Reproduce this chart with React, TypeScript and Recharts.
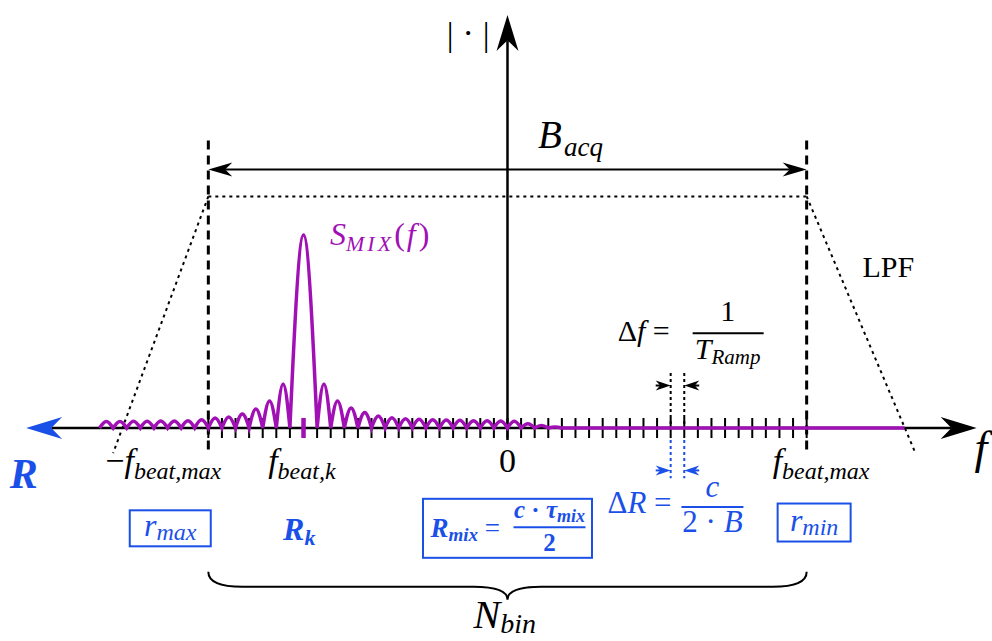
import React from 'react';
import { ComposedChart, Line, XAxis, YAxis, ReferenceLine, ReferenceDot } from 'recharts';

const W = 992;
const H = 641;

// frequency axis counted in FFT bins, magnitude normalised to the main lobe
const bins = Array.from({ length: 45 }, (_, i) => i - 22);
const beatBin = -15;
const mainLobe = 1.0;
// |sinc| side-lobe peaks, going outward from the main lobe
const lobesLeft = [0.228, 0.14, 0.098, 0.072, 0.057, 0.052, 0.042, 0.038, 0.036, 0.036, 0.035, 0.035, 0.034, 0.034];
const lobesRight = [0.228, 0.14, 0.104, 0.08, 0.062, 0.053, 0.048, 0.045, 0.043, 0.041, 0.04, 0.038, 0.037, 0.036, 0.035, 0.022, 0.013, 0.005];
const tailEnd = 29.2;

const X_DOMAIN = [-37.32, 35.63];
const Y_DOMAIN = [-1.104, 2.218];

const PURPLE = '#a010b4';
const BLUE = '#1a50e8';
const SERIF = '"Liberation Serif", "Times New Roman", serif';

// build the zero / peak / zero ... sequence of the spectrum
const curve: { f: number; mag: number }[] = [];
for (let i = lobesLeft.length - 1; i >= 0; i--) {
  const c = beatBin - 1.5 - i;
  curve.push({ f: c - 0.5, mag: 0 }, { f: c, mag: lobesLeft[i] });
}
curve.push({ f: beatBin - 1, mag: 0 }, { f: beatBin, mag: mainLobe });
lobesRight.forEach((h, i) => {
  const c = beatBin + 1.5 + i;
  curve.push({ f: c - 0.5, mag: 0 }, { f: c, mag: h });
});
const lastZero = beatBin + 1 + lobesRight.length;
curve.push({ f: lastZero, mag: 0 }, { f: (lastZero + tailEnd) / 2, mag: 0 }, { f: tailEnd, mag: 0 });

// bin ticks on the f axis (the beat bin gets its own purple marker)
const tickData = bins.filter((f) => f !== beatBin).map((f) => ({ f, mag: 0 }));

// curve factory: each zero-peak-zero triple becomes a half-sine arch with cusps at the zeros
const lobeCurve = (context: any) => {
  let pts: number[][] = [];
  return {
    areaStart() {},
    areaEnd() {},
    lineStart() {
      pts = [];
    },
    lineEnd() {
      if (!pts.length) return;
      context.moveTo(pts[0][0], pts[0][1]);
      const k = 0.5236;
      for (let i = 1; i + 1 < pts.length; i += 2) {
        const [x0, y0] = pts[i - 1];
        const [x1, y1] = pts[i];
        const [x2, y2] = pts[i + 1];
        if (y1 === y0 && y1 === y2) {
          context.lineTo(x2, y2);
          continue;
        }
        context.bezierCurveTo(x0 + (x1 - x0) / 3, y0 + (y1 - y0) * k, x0 + (2 * (x1 - x0)) / 3, y1, x1, y1);
        context.bezierCurveTo(x1 + (x2 - x1) / 3, y1, x1 + (2 * (x2 - x1)) / 3, y2 + (y1 - y2) * k, x2, y2);
      }
    },
    point(x: number, y: number) {
      pts.push([+x, +y]);
    },
  };
};

// curve factory drawing a short vertical tick at every point
const tickCurve = (context: any) => ({
  areaStart() {},
  areaEnd() {},
  lineStart() {},
  lineEnd() {},
  point(x: number, y: number) {
    context.moveTo(+x, +y - 10);
    context.lineTo(+x, +y + 10);
  },
});

const head = (tx: number, ty: number, ux: number, uy: number, len: number, hw: number, color: string) => {
  const bx = tx - ux * len;
  const by = ty - uy * len;
  const nx = tx - ux * len * 0.7;
  const ny = ty - uy * len * 0.7;
  return (
    <path
      d={`M${tx},${ty} L${bx - uy * hw},${by + ux * hw} L${nx},${ny} L${bx + uy * hw},${by - ux * hw} Z`}
      fill={color}
      stroke="none"
    />
  );
};

type ArrowOpts = {
  color?: string;
  width?: number;
  dash?: string;
  start?: string | null;
  end?: string | null;
  len?: number;
  hw?: number;
};

const arrow = ({ color = '#000', width = 2, dash, start = null, end = null, len = 24, hw = 7 }: ArrowOpts) => (p: any) => {
  const { x1, y1, x2, y2 } = p;
  const d = Math.hypot(x2 - x1, y2 - y1) || 1;
  const ux = (x2 - x1) / d;
  const uy = (y2 - y1) / d;
  const sx = start ? x1 + ux * len * 0.7 : x1;
  const sy = start ? y1 + uy * len * 0.7 : y1;
  const ex = end ? x2 - ux * len * 0.7 : x2;
  const ey = end ? y2 - uy * len * 0.7 : y2;
  return (
    <g>
      <line x1={sx} y1={sy} x2={ex} y2={ey} stroke={color} strokeWidth={width} strokeDasharray={dash} />
      {start && head(x1, y1, -ux, -uy, len, hw, start)}
      {end && head(x2, y2, ux, uy, len, hw, end)}
    </g>
  );
};

const brace = (p: any) => {
  const { x1, y1, x2 } = p;
  const xm = (x1 + x2) / 2;
  const h = 15;
  const t = 28;
  const d = `M${x1},${y1} Q${x1},${y1 + h} ${x1 + 34},${y1 + h} L${xm - 34},${y1 + h} Q${xm},${y1 + h} ${xm},${y1 + t}
    Q${xm},${y1 + h} ${xm + 34},${y1 + h} L${x2 - 34},${y1 + h} Q${x2},${y1 + h} ${x2},${y1}`;
  return <path d={d} fill="none" stroke="#000" strokeWidth={2} />;
};

// text with the serif family set inline
const T = ({ style, italic, ...rest }: any) => (
  <text {...rest} style={{ fontFamily: SERIF, fontStyle: italic ? 'italic' : 'normal', ...style }} />
);
const S = ({ style, italic, ...rest }: any) => (
  <tspan {...rest} style={{ fontFamily: SERIF, fontStyle: italic ? 'italic' : 'normal', ...style }} />
);

const note = (key: string, f: number, mag: number, node: React.ReactNode) => (
  <ReferenceDot
    key={key}
    x={f}
    y={mag}
    r={0}
    shape={(p: any) => <g transform={`translate(${p.cx},${p.cy})`}>{node}</g>}
  />
);

export default function App() {
  return (
    <div style={{ position: 'absolute', left: 0, top: 0, width: W, height: H, background: '#fff' }}>
      <ComposedChart width={W} height={H} margin={{ top: 0, right: 0, bottom: 0, left: 0 }}>
        <XAxis type="number" dataKey="f" domain={X_DOMAIN} allowDataOverflow hide />
        <YAxis type="number" dataKey="mag" domain={Y_DOMAIN} allowDataOverflow hide />

        {/* LPF trapezoid and band edges */}
        <ReferenceLine segment={[{ x: -22, y: 1.2 }, { x: 22, y: 1.2 }]} shape={arrow({ dash: '3 4', width: 2 })} />
        <ReferenceLine segment={[{ x: -22, y: 1.2 }, { x: -29, y: -0.13 }]} shape={arrow({ dash: '3 4', width: 2 })} />
        <ReferenceLine segment={[{ x: 22, y: 1.2 }, { x: 30, y: -0.13 }]} shape={arrow({ dash: '3 4', width: 2 })} />
        <ReferenceLine segment={[{ x: -22, y: 1.49 }, { x: -22, y: -0.13 }]} shape={arrow({ dash: '9 6', width: 3 })} />
        <ReferenceLine segment={[{ x: 22, y: 1.49 }, { x: 22, y: -0.13 }]} shape={arrow({ dash: '9 6', width: 3 })} />
        <ReferenceLine
          segment={[{ x: -22, y: 1.34 }, { x: 22, y: 1.34 }]}
          shape={arrow({ width: 2, start: '#000', end: '#000', len: 24, hw: 7 })}
        />

        {/* axes */}
        <ReferenceLine
          segment={[{ x: -35.4, y: 0 }, { x: 34.5, y: 0 }]}
          shape={arrow({ width: 2.5, start: BLUE, end: '#000', len: 36, hw: 11 })}
        />
        <ReferenceLine
          segment={[{ x: 0, y: -0.062 }, { x: 0, y: 2.14 }]}
          shape={arrow({ width: 2.5, end: '#000', len: 36, hw: 11 })}
        />

        {/* resolution markers */}
        <ReferenceLine segment={[{ x: 12, y: 0.285 }, { x: 12, y: 0 }]} shape={arrow({ dash: '3 3', width: 2 })} />
        <ReferenceLine segment={[{ x: 13, y: 0.285 }, { x: 13, y: 0 }]} shape={arrow({ dash: '3 3', width: 2 })} />
        <ReferenceLine segment={[{ x: 10.9, y: 0.22 }, { x: 12, y: 0.22 }]} shape={arrow({ end: '#000', len: 15, hw: 5 })} />
        <ReferenceLine segment={[{ x: 14.1, y: 0.22 }, { x: 13, y: 0.22 }]} shape={arrow({ end: '#000', len: 15, hw: 5 })} />
        <ReferenceLine segment={[{ x: 12, y: -0.062 }, { x: 12, y: -0.26 }]} shape={arrow({ dash: '3 3', width: 2, color: BLUE })} />
        <ReferenceLine segment={[{ x: 13, y: -0.062 }, { x: 13, y: -0.26 }]} shape={arrow({ dash: '3 3', width: 2, color: BLUE })} />
        <ReferenceLine segment={[{ x: 10.9, y: -0.22 }, { x: 12, y: -0.22 }]} shape={arrow({ end: BLUE, color: BLUE, len: 15, hw: 5 })} />
        <ReferenceLine segment={[{ x: 14.1, y: -0.22 }, { x: 13, y: -0.22 }]} shape={arrow({ end: BLUE, color: BLUE, len: 15, hw: 5 })} />
        <ReferenceLine segment={[{ x: beatBin, y: 0.052 }, { x: beatBin, y: -0.052 }]} shape={arrow({ color: PURPLE, width: 4.5 })} />

        {/* bin ticks, then the spectrum on top */}
        <Line
          data={tickData}
          dataKey="mag"
          type={tickCurve as any}
          stroke="#000"
          strokeWidth={2}
          dot={false}
          activeDot={false}
          isAnimationActive={false}
        />
        <Line
          data={curve}
          dataKey="mag"
          type={lobeCurve as any}
          stroke={PURPLE}
          strokeWidth={3.5}
          dot={false}
          activeDot={false}
          isAnimationActive={false}
        />

        {/* brace under the acquisition band */}
        <ReferenceLine segment={[{ x: -22, y: -0.745 }, { x: 22, y: -0.745 }]} shape={brace} />

        {[
          note('abs', -2.9, 1.98, (
            <g>
              <T x={-18} y={0} fontSize={34} textAnchor="middle">|</T>
              <T x={0} y={-2} fontSize={34} textAnchor="middle">·</T>
              <T x={18} y={0} fontSize={34} textAnchor="middle">|</T>
            </g>
          )),
          note('bacq', 2.25, 1.45, (
            <T fontSize={39} italic>
              B<S italic fontSize={27} dy={8} dx={2}>acq</S>
            </T>
          )),
          note('lpf', 26.1, 0.78, <T fontSize={30}>LPF</T>),
          note('smix', -13.05, 0.95, (
            <T fontSize={32} fill={PURPLE}>
              <S italic>S</S>
              <S italic fontSize={22} dy={6} letterSpacing={3}>MIX</S>
              <S dy={-6}>(</S>
              <S italic dx={2}>f</S>
              <S dx={3}>)</S>
            </T>
          )),
          note('df', 8.1, 0.45, (
            <g>
              <T x={0} y={0} fontSize={30}>
                Δ<S italic>f</S> =
              </T>
              <line x1={75} x2={146} y1={-8} y2={-8} stroke="#000" strokeWidth={2} />
              <T x={110} y={-20} textAnchor="middle" fontSize={30}>1</T>
              <T x={110} y={18} textAnchor="middle" fontSize={30} italic>
                T<S italic fontSize={21} dy={5}>Ramp</S>
              </T>
            </g>
          )),
          note('fmin', -21.05, -0.23, (
            <T fontSize={34} textAnchor="end">
              −<S italic>f</S>
              <S italic fontSize={24} dy={7}>beat,max</S>
            </T>
          )),
          note('fk', -17.6, -0.23, (
            <T fontSize={34} italic>
              f<S italic fontSize={24} dy={7}>beat,k</S>
            </T>
          )),
          note('zero', 0, -0.23, <T fontSize={34} textAnchor="middle">0</T>),
          note('fmax', 19.5, -0.23, (
            <T fontSize={34} italic>
              f<S italic fontSize={24} dy={7}>beat,max</S>
            </T>
          )),
          note('faxis', 34.35, -0.18, <T fontSize={46} italic>f</T>),
          note('R', -36.6, -0.31, (
            <T fontSize={42} italic fontWeight="bold" fill={BLUE}>R</T>
          )),
          note('rmax', -24.8, -0.52, (
            <g>
              <rect x={-40.5} y={-18} width={81} height={36} fill="none" stroke={BLUE} strokeWidth={2} />
              <T x={0} y={8} textAnchor="middle" fontSize={32} italic fill={BLUE}>
                r<S italic fontSize={24} dy={4}>max</S>
              </T>
            </g>
          )),
          note('rk', -16.5, -0.58, (
            <T fontSize={32} italic fontWeight="bold" fill={BLUE}>
              R<S italic fontSize={22} dy={5}>k</S>
            </T>
          )),
          note('rmix', 0, -0.52, (
            <g>
              <rect x={-84.5} y={-29.5} width={169} height={59} fill="none" stroke={BLUE} strokeWidth={2} />
              <T x={-77} y={9} fontSize={27} fontWeight="bold" fill={BLUE}>
                <S italic>R</S>
                <S italic fontSize={19} dy={4}>mix</S>
                <S dy={-4} fontWeight="normal"> =</S>
              </T>
              <line x1={6} x2={78} y1={-1} y2={-1} stroke={BLUE} strokeWidth={2} />
              <T x={42} y={-10} textAnchor="middle" fontSize={25} fontWeight="bold" fill={BLUE}>
                <S italic>c</S> · <S italic>τ</S>
                <S italic fontSize={18} dy={4}>mix</S>
              </T>
              <T x={42} y={23} textAnchor="middle" fontSize={25} fontWeight="bold" fill={BLUE}>2</T>
            </g>
          )),
          note('dr', 7.35, -0.44, (
            <g>
              <T x={0} y={0} fontSize={31} fill={BLUE}>
                Δ<S italic>R</S> =
              </T>
              <line x1={74} x2={136} y1={-6} y2={-6} stroke={BLUE} strokeWidth={2} />
              <T x={105} y={-16} textAnchor="middle" fontSize={31} italic fill={BLUE}>c</T>
              <T x={105} y={19} textAnchor="middle" fontSize={31} fill={BLUE}>
                2 · <S italic>B</S>
              </T>
            </g>
          )),
          note('rmin', 22.55, -0.49, (
            <g>
              <rect x={-36.5} y={-19} width={73} height={38} fill="none" stroke={BLUE} strokeWidth={2} />
              <T x={0} y={8} textAnchor="middle" fontSize={32} italic fill={BLUE}>
                r<S italic fontSize={24} dy={4}>min</S>
              </T>
            </g>
          )),
          note('nbin', -2.5, -1.035, (
            <T fontSize={40} italic>
              N<S italic fontSize={28} dy={5}>bin</S>
            </T>
          )),
        ]}
      </ComposedChart>
    </div>
  );
}
